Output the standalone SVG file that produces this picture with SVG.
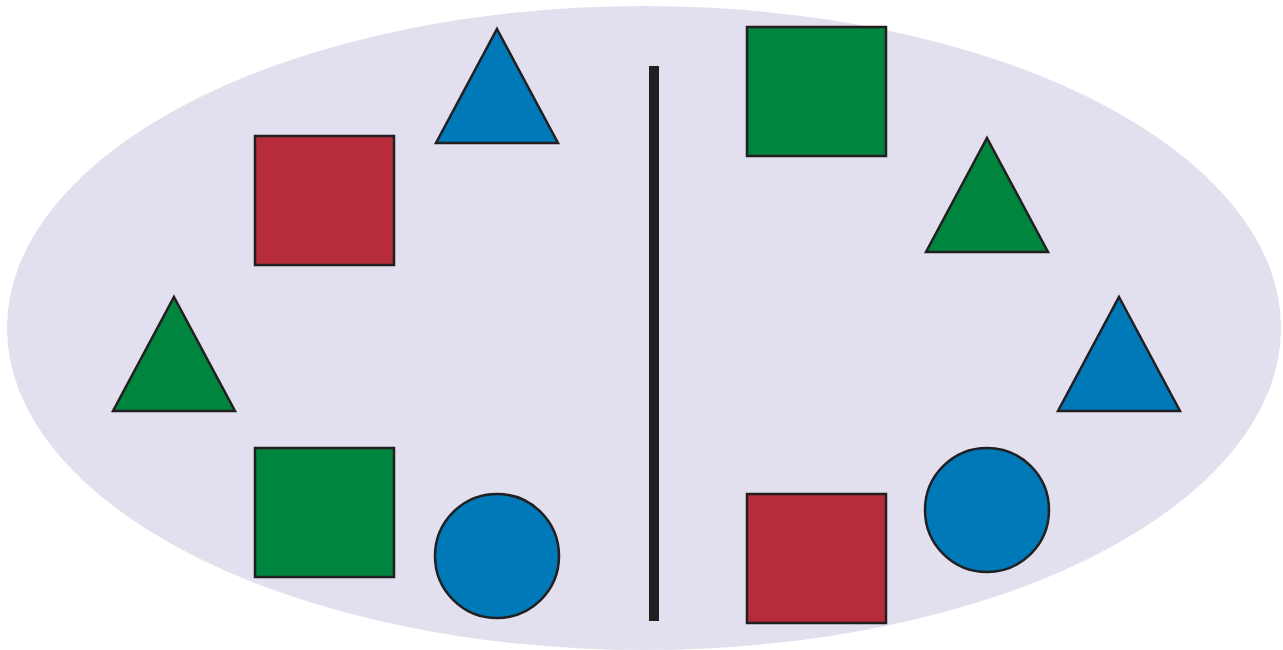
<svg xmlns="http://www.w3.org/2000/svg" width="1283" height="650" viewBox="0 0 1283 650">
<style>
.s{stroke:#231f20;stroke-width:2.5;stroke-linejoin:miter}
.r{fill:#b72c3a}.g{fill:#00853f}.b{fill:#0079b9}
</style>
<rect width="1283" height="650" fill="#fff"/>
<ellipse id="bg" cx="644" cy="328" rx="637" ry="322" fill="#e2e0ef"/>
<rect id="divider" x="649" y="66" width="10" height="555" fill="#231f20"/>
<g id="left">
<rect id="redSquareL" class="s r" x="255" y="136" width="139" height="129"/>
<polygon id="blueTriL" class="s b" points="497,29 558,143 436,143"/>
<polygon id="greenTriL" class="s g" points="174,297 235,411 113,411"/>
<rect id="greenSquareL" class="s g" x="255" y="448" width="139" height="129"/>
<circle id="blueCircleL" class="s b" cx="497" cy="556" r="62"/>
</g>
<g id="right">
<rect id="greenSquareR" class="s g" x="747" y="27" width="139" height="129"/>
<polygon id="greenTriR" class="s g" points="987,138 1048,252 926,252"/>
<polygon id="blueTriR" class="s b" points="1119,297 1180,411 1058,411"/>
<circle id="blueCircleR" class="s b" cx="987" cy="510" r="62"/>
<rect id="redSquareR" class="s r" x="747" y="494" width="139" height="129"/>
</g>
</svg>
